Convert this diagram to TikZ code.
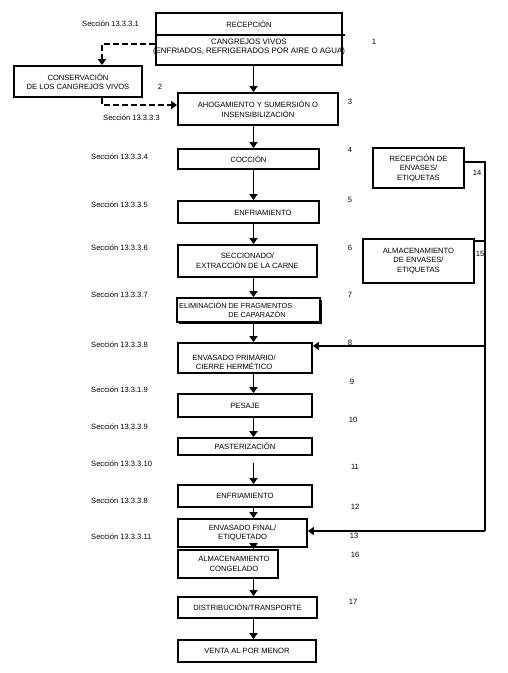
\documentclass[tikz,border=0pt]{standalone}
\usepackage{fontspec}
\setmainfont{Liberation Sans}
\usetikzlibrary{arrows.meta,shadows}
\begin{document}
\begin{tikzpicture}[x=1pt,y=-1pt,
  every node/.style={font=\fontsize{7.6}{9.5}\selectfont, inner sep=0pt},
  box/.style={draw, line width=1.8pt, fill=white, align=center},
  txt/.style={align=center},
  sec/.style={anchor=west},
  arr/.style={line width=1.9pt, -{Triangle[length=6pt,width=8pt]}},
  conn/.style={line width=1.4pt},
  carr/.style={line width=1.4pt, -{Triangle[length=6pt,width=8pt]}},
  darr/.style={line width=1.8pt, dash pattern=on 6pt off 3pt, -{Triangle[length=6pt,width=8pt]}},
]
\useasboundingbox (0,0) rectangle (508,673);
\coordinate (ax) at (253.5,0);

% main column boxes
\node[box, minimum width=186pt, minimum height=52pt] (rec) at (249,39) {};
\node[txt] (rect1) at (249,24) {RECEPCIÓN};
\node[txt, font=\fontsize{7.9}{9.5}\selectfont] (rect2) at (249,47) {CANGREJOS VIVOS\\(ENFRIADOS, REFRIGERADOS POR AIRE O AGUA)};
\draw[line width=1.3pt] ([yshift=-23pt]rec.north west) -- ([xshift=2pt,yshift=-23pt]rec.north east);

\node[box, minimum width=128pt, minimum height=31pt] (cons) at (78,81.5) {CONSERVACIÓN\\DE LOS CANGREJOS VIVOS};
\node[box, minimum width=160pt, minimum height=32pt] (ahog) at (258,109) {AHOGAMIENTO Y SUMERSIÓN O\\INSENSIBILIZACIÓN};
\node[box, minimum width=141pt, minimum height=20pt] (coc) at (248.5,159) {COCCIÓN};
\node[box, minimum width=141pt, minimum height=22pt] (enf1) at (248.5,212) {};
\node[txt] (enf1t) at (263,213) {ENFRIAMIENTO};
\node[box, minimum width=139pt, minimum height=32pt] (secc) at (247.5,261) {SECCIONADO/\\EXTRACCIÓN DE LA CARNE};
\node[box, minimum width=143pt, minimum height=24pt, drop shadow={shadow xshift=1.8pt, shadow yshift=-1.8pt, fill=black, opacity=1}] (elim) at (248.5,310) {};
\node[anchor=west, font=\fontsize{7.3}{9.5}\selectfont] (elimt1) at (179,305) {ELIMINACIÓN DE FRAGMENTOS};
\node[txt, font=\fontsize{7.3}{9.5}\selectfont] (elimt2) at (257,314) {DE CAPARAZÓN};
\node[box, minimum width=134pt, minimum height=30pt] (envp) at (245,358) {};
\node[txt] (envpt) at (234,362.5) {ENVASADO PRIMARIO/\\CIERRE HERMÉTICO};
\node[box, minimum width=134pt, minimum height=23pt] (pes) at (245,405.5) {PESAJE};
\node[box, minimum width=134pt, minimum height=17pt] (past) at (245,446.5) {PASTERIZACIÓN};
\node[box, minimum width=134pt, minimum height=22pt] (enf2) at (245,496) {ENFRIAMIENTO};
\node[box, minimum width=129pt, minimum height=28pt] (envf) at (242.5,533) {ENVASADO FINAL/\\ETIQUETADO};
\node[box, minimum width=100pt, minimum height=28pt] (alm) at (228,564) {};
\node[txt] (almt) at (234,564) {ALMACENAMIENTO\\CONGELADO};
\node[box, minimum width=139pt, minimum height=21pt] (dist) at (247.5,607.5) {DISTRIBUCIÓN/TRANSPORTE};
\node[box, minimum width=138pt, minimum height=22pt] (venta) at (247,651) {VENTA AL POR MENOR};

% right boxes
\node[box, minimum width=91pt, minimum height=40pt] (recenv) at (418.5,168) {RECEPCIÓN DE\\ENVASES/\\ETIQUETAS};
\node[box, minimum width=111pt, minimum height=44pt] (almenv) at (418.5,261) {ALMACENAMIENTO\\DE ENVASES/\\ETIQUETAS};

% main arrows
\draw[arr] (rec.south -| ax) -- (ahog.north -| ax);
\draw[arr] (ahog.south -| ax) -- (coc.north -| ax);
\draw[arr] (coc.south -| ax) -- (enf1.north -| ax);
\draw[arr] (enf1.south -| ax) -- (secc.north -| ax);
\draw[arr] (secc.south -| ax) -- (elim.north -| ax);
\draw[arr] (elim.south -| ax) -- (envp.north -| ax);
\draw[arr] (envp.south -| ax) -- (pes.north -| ax);
\draw[arr] (pes.south -| ax) -- (past.north -| ax);
\draw[arr, shorten <=7pt] (past.south -| ax) -- (enf2.north -| ax);
\draw[arr] (enf2.south -| ax) -- (envf.north -| ax);
\draw[arr] (envf.south -| ax) -- (alm.north -| ax);
\draw[arr] (alm.south -| ax) -- (dist.north -| ax);
\draw[arr] (dist.south -| ax) -- (venta.north -| ax);

% dashed
\coordinate (d1) at (102,44);
\coordinate (d2) at (102,105);
\draw[darr] (rec.west |- d1) -- (d1) -- (cons.north -| d1);
\draw[darr] (cons.south -| d1) -- (d2) -- (ahog.west |- d2);

% right bus
\coordinate (bt) at (485,162);
\coordinate (j15) at (485,241);
\coordinate (j8) at (485,346);
\coordinate (bb) at (485,531);
\draw[conn] (recenv.east |- bt) -- (bt) -- (bb);
\draw[conn] ([xshift=-2pt]almenv.east |- j15) -- (j15);
\draw[carr] (j8) -- (envp.east |- j8);
\draw[carr] (bb) -- (envf.east |- bb);

% section labels
\node[sec] (s1) at (82,24) {Sección 13.3.3.1};
\node[sec] (s3) at (103,118) {Sección 13.3.3.3};
\node[sec] (s4) at (91,157) {Sección 13.3.3.4};
\node[sec] (s5) at (91,205) {Sección 13.3.3.5};
\node[sec] (s6) at (91,248) {Sección 13.3.3.6};
\node[sec] (s7) at (91,295) {Sección 13.3.3.7};
\node[sec] (s8) at (91,345) {Sección 13.3.3.8};
\node[sec] (s19) at (91,390) {Sección 13.3.1.9};
\node[sec] (s9) at (91,427) {Sección 13.3.3.9};
\node[sec] (s10) at (91,464) {Sección 13.3.3.10};
\node[sec] (s8b) at (91,501) {Sección 13.3.3.8};
\node[sec] (s11) at (91,537) {Sección 13.3.3.11};

% numbers
\node (n1) at (374,42) {1};
\node (n2) at (160,87) {2};
\node (n3) at (350,102) {3};
\node (n4) at (350,150) {4};
\node (n5) at (350,200) {5};
\node (n6) at (350,248) {6};
\node (n7) at (350,295) {7};
\node (n8) at (350,343) {8};
\node (n9) at (352,382) {9};
\node (n10) at (353,420) {10};
\node (n11) at (355,467) {11};
\node (n12) at (355,507) {12};
\node (n13) at (354,536) {13};
\node (n14) at (477,173) {14};
\node (n15) at (480,254) {15};
\node (n16) at (355,555) {16};
\node (n17) at (353,602) {17};
\end{tikzpicture}
\end{document}
